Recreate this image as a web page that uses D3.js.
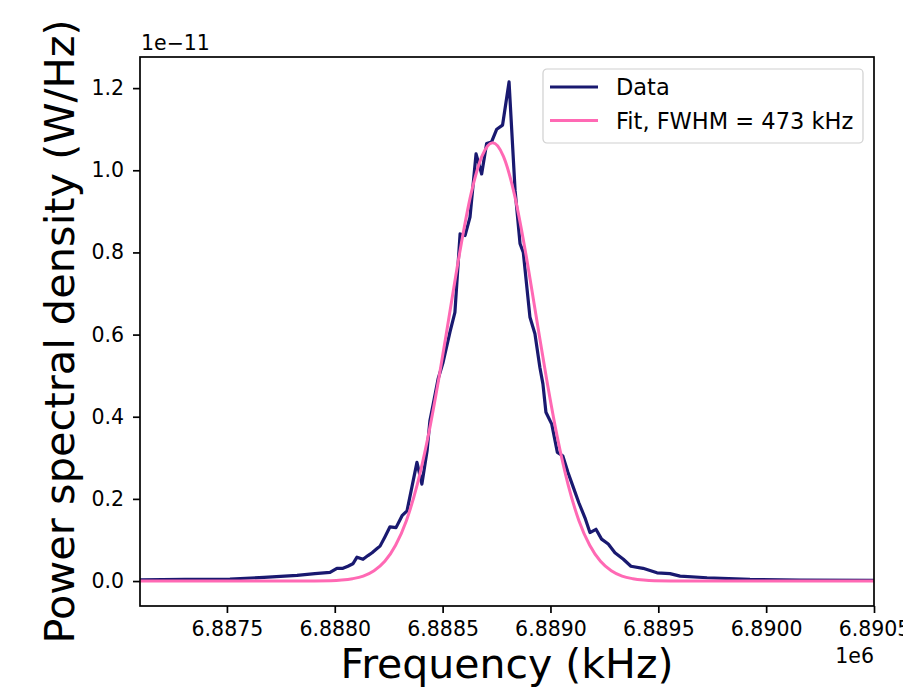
<!DOCTYPE html>
<html>
<head>
<meta charset="utf-8">
<script src="https://cdn.jsdelivr.net/npm/d3@7"></script>
<style>
  body { margin: 0; background: #fff; }
  svg { display: block; font-family: "DejaVu Sans", sans-serif; }
</style>
</head>
<body>
<svg id="psd-chart" width="903" height="692"></svg>
<script>
// measured spectrum (x in Hz-like axis units, y in units of 1e-11 W/Hz)
const freqData = [6887097, 6887306, 6887514, 6887672, 6887825, 6887908, 6887978, 6888010, 6888038, 6888061,
    6888084, 6888103, 6888131, 6888154, 6888173, 6888196, 6888210, 6888233, 6888256, 6888284,
    6888312, 6888335, 6888358, 6888381, 6888404, 6888428, 6888441, 6888455, 6888479, 6888502,
    6888534, 6888557, 6888581, 6888604, 6888627, 6888655, 6888681, 6888704, 6888727, 6888751,
    6888778, 6888808, 6888836, 6888859, 6888874, 6888905, 6888928, 6888951, 6888965, 6888979,
    6889006, 6889032, 6889057, 6889081, 6889106, 6889132, 6889160, 6889183, 6889211, 6889237,
    6889268, 6889299, 6889338, 6889373, 6889429, 6889494, 6889554, 6889601, 6889726, 6889925,
    6890157, 6890500];
const psdData = [0.003, 0.004, 0.005, 0.009, 0.014, 0.018, 0.021, 0.031, 0.031, 0.036,
    0.042, 0.058, 0.053, 0.062, 0.069, 0.079, 0.085, 0.108, 0.132, 0.130,
    0.159, 0.171, 0.230, 0.289, 0.236, 0.317, 0.390, 0.427, 0.492, 0.532,
    0.606, 0.654, 0.845, 0.841, 0.886, 1.040, 0.991, 1.065, 1.069, 1.100,
    1.110, 1.215, 0.951, 0.821, 0.800, 0.642, 0.602, 0.520, 0.480, 0.411,
    0.382, 0.313, 0.305, 0.265, 0.228, 0.190, 0.154, 0.118, 0.126, 0.102,
    0.090, 0.069, 0.053, 0.036, 0.031, 0.020, 0.018, 0.012, 0.008, 0.004,
    0.0025, 0.0017];

// fitted curve
const freqFit = [6887097, 6887832, 6887982, 6888032, 6888082, 6888132, 6888182, 6888232, 6888282, 6888332,
    6888382, 6888432, 6888482, 6888532, 6888582, 6888632, 6888682, 6888732, 6888782, 6888832,
    6888882, 6888932, 6888982, 6889032, 6889082, 6889132, 6889182, 6889232, 6889282, 6889332,
    6889382, 6889432, 6889482, 6889632, 6890500];
const psdFit = [0, 0, 0.001, 0.0025, 0.0057, 0.012, 0.025, 0.048, 0.087, 0.147,
    0.234, 0.350, 0.492, 0.650, 0.808, 0.943, 1.034, 1.067, 1.034, 0.943,
    0.808, 0.650, 0.492, 0.350, 0.234, 0.147, 0.087, 0.048, 0.025, 0.012,
    0.0057, 0.0025, 0.001, 0, 0];

const xTicks = [6887500, 6888000, 6888500, 6889000, 6889500, 6890000, 6890500];
const yTicks = [0.0, 0.2, 0.4, 0.6, 0.8, 1.0, 1.2];
const seriesNames = ["Data", "Fit, FWHM = 473 kHz"];
const seriesColors = ["#191970", "#ff69b4"];

const width = 903;
const height = 692;
const margin = { top: 57, right: 29, bottom: 86, left: 140 };
const chartWidth = width - margin.left - margin.right;
const chartHeight = height - margin.top - margin.bottom;

const svg = d3.select('#psd-chart');
const g = svg.append('g')
    .attr('transform', `translate(${margin.left}, ${margin.top})`);

const xScale = d3.scaleLinear()
    .domain([6887097, 6890500])
    .range([0, chartWidth]);

const yMax = d3.max(psdData);
const pad = yMax * 0.05;
const yScale = d3.scaleLinear()
    .domain([-pad, yMax + pad])
    .range([chartHeight, 0]);

g.append('defs').append('clipPath').attr('id', 'clip')
    .append('rect').attr('width', chartWidth).attr('height', chartHeight);

const dataLine = d3.line()
    .x((d, i) => xScale(freqData[i]))
    .y(d => yScale(d));

const fitLine = d3.line()
    .x((d, i) => xScale(freqFit[i]))
    .y(d => yScale(d))
    .curve(d3.curveMonotoneX);

g.append('path')
    .datum(psdData)
    .attr('clip-path', 'url(#clip)')
    .attr('d', dataLine)
    .attr('fill', 'none')
    .attr('stroke', seriesColors[0])
    .attr('stroke-width', 3.2)
    .attr('stroke-linejoin', 'round');

g.append('path')
    .datum(psdFit)
    .attr('clip-path', 'url(#clip)')
    .attr('d', fitLine)
    .attr('fill', 'none')
    .attr('stroke', seriesColors[1])
    .attr('stroke-width', 3)
    .attr('stroke-linejoin', 'round');

// axes
const xAxis = g.append('g')
    .attr('transform', `translate(0, ${chartHeight})`)
    .call(d3.axisBottom(xScale).tickValues(xTicks).tickSize(7).tickPadding(8)
        .tickFormat(d => (d / 1e6).toFixed(4)));

const yAxis = g.append('g')
    .call(d3.axisLeft(yScale).tickValues(yTicks).tickSize(7).tickPadding(9)
        .tickFormat(d3.format('.1f')));

[xAxis, yAxis].forEach(ax => {
    ax.select('.domain').remove();
    ax.selectAll('line').attr('stroke', '#000').attr('stroke-width', 1.7);
    ax.selectAll('text')
        .style('font-family', '"DejaVu Sans", sans-serif')
        .style('font-size', '20.5px')
        .attr('fill', '#000');
});

// frame
g.append('rect')
    .attr('width', chartWidth)
    .attr('height', chartHeight)
    .attr('fill', 'none')
    .attr('stroke', '#000')
    .attr('stroke-width', 1.7);

// offset texts
g.append('text')
    .attr('x', 1)
    .attr('y', -7)
    .style('font-size', '20.5px')
    .text('1e\u221211');

g.append('text')
    .attr('x', chartWidth)
    .attr('y', chartHeight + 57)
    .attr('text-anchor', 'end')
    .style('font-size', '20.5px')
    .text('1e6');

// axis labels
g.append('text')
    .attr('x', chartWidth / 2)
    .attr('y', chartHeight + 72)
    .attr('text-anchor', 'middle')
    .style('font-size', '41px')
    .text('Frequency (kHz)');

g.append('text')
    .attr('transform', 'rotate(-90)')
    .attr('x', -chartHeight / 2)
    .attr('y', -66)
    .attr('text-anchor', 'middle')
    .style('font-size', '41.5px')
    .text('Power spectral density (W/Hz)');

// legend
const legend = svg.append('g').attr('transform', 'translate(543, 69)');
legend.append('rect')
    .attr('width', 320)
    .attr('height', 74)
    .attr('rx', 4)
    .attr('fill', '#fff')
    .attr('fill-opacity', 0.8)
    .attr('stroke', '#d0d0d0')
    .attr('stroke-width', 1.2);

seriesNames.forEach((name, i) => {
    const row = legend.append('g').attr('transform', `translate(0, ${18 + i * 33.5})`);
    row.append('line')
        .attr('x1', 7).attr('x2', 55)
        .attr('stroke', seriesColors[i])
        .attr('stroke-width', 3);
    row.append('text')
        .attr('x', 73)
        .attr('y', 8)
        .style('font-size', '22.5px')
        .text(name);
});
</script>
</body>
</html>
